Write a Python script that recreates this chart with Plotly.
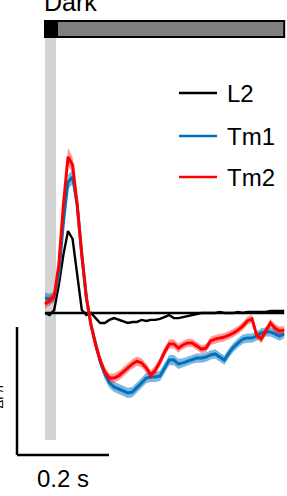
import numpy as np
import plotly.graph_objects as go

# time axis (s)
time_s = [round(0.01 * i, 2) for i in range(53)]

series_names = ["L2", "Tm1", "Tm2"]
series_colors = ["#000000", "#0072BD", "#FF0000"]

l2_dff = [0.0, -0.008, 0.012, 0.109, 0.227, 0.32, 0.289, 0.148, 0.012, -0.008,
          0.0, -0.02, -0.039, -0.039, -0.027, -0.02, -0.027, -0.035, -0.039, -0.035,
          -0.035, -0.027, -0.031, -0.027, -0.027, -0.023, -0.016, -0.008, -0.02, -0.02,
          -0.016, -0.012, -0.008, -0.004, 0.0, 0.0, 0.0, 0.0, 0.004, 0.0,
          0.0, 0.0, 0.004, 0.0, 0.004, 0.004, 0.004, 0.004, 0.004, 0.008,
          0.008, 0.008, 0.008]

tm1_dff = [0.059, 0.055, 0.062, 0.148, 0.355, 0.512, 0.531, 0.422, 0.227, 0.059,
           -0.047, -0.125, -0.191, -0.238, -0.273, -0.289, -0.297, -0.305, -0.312, -0.309,
           -0.289, -0.273, -0.254, -0.25, -0.25, -0.246, -0.215, -0.184, -0.184, -0.199,
           -0.195, -0.188, -0.18, -0.176, -0.176, -0.172, -0.164, -0.16, -0.172, -0.184,
           -0.156, -0.133, -0.117, -0.102, -0.098, -0.098, -0.09, -0.078, -0.074, -0.074,
           -0.082, -0.09, -0.082]
tm1_sem = [0.02, 0.02, 0.02, 0.022, 0.025, 0.028, 0.028, 0.025, 0.02, 0.018,
           0.018, 0.018, 0.018, 0.02, 0.02, 0.02, 0.02, 0.02, 0.02, 0.02,
           0.02, 0.02, 0.02, 0.02, 0.02, 0.02, 0.02, 0.02, 0.02, 0.02,
           0.018, 0.018, 0.018, 0.018, 0.018, 0.018, 0.018, 0.018, 0.018, 0.018,
           0.018, 0.018, 0.018, 0.018, 0.018, 0.018, 0.018, 0.018, 0.018, 0.018,
           0.018, 0.018, 0.018]

tm2_dff = [0.035, 0.047, 0.066, 0.188, 0.422, 0.61, 0.578, 0.422, 0.227, 0.059,
           -0.047, -0.125, -0.184, -0.23, -0.254, -0.254, -0.246, -0.23, -0.215, -0.199,
           -0.188, -0.195, -0.215, -0.242, -0.223, -0.191, -0.152, -0.121, -0.121, -0.137,
           -0.125, -0.117, -0.117, -0.129, -0.141, -0.137, -0.109, -0.102, -0.098, -0.094,
           -0.086, -0.078, -0.066, -0.051, -0.031, -0.023, -0.086, -0.102, -0.07, -0.039,
           -0.059, -0.07, -0.066]
tm2_sem = [0.018, 0.018, 0.02, 0.022, 0.028, 0.035, 0.03, 0.025, 0.02, 0.018,
           0.018, 0.018, 0.018, 0.018, 0.018, 0.018, 0.018, 0.018, 0.018, 0.018,
           0.018, 0.018, 0.018, 0.018, 0.018, 0.018, 0.018, 0.018, 0.018, 0.018,
           0.016, 0.016, 0.016, 0.016, 0.016, 0.016, 0.016, 0.016, 0.016, 0.016,
           0.016, 0.016, 0.016, 0.016, 0.016, 0.016, 0.016, 0.016, 0.016, 0.016,
           0.016, 0.016, 0.016]

stim_duration = 0.024
dark_label = "Dark"
scale_x_s = 0.2
scale_y = 0.5
scale_x_label = "0.2 s"
scale_y_label = "ΔF/F"

t = np.array(time_s)
fig = go.Figure()


def band(mean, sem, rgba):
    m = np.array(mean)
    s = np.array(sem)
    xs = np.concatenate([t, t[::-1]])
    ys = np.concatenate([m + s, (m - s)[::-1]])
    fig.add_trace(go.Scatter(x=xs, y=ys, fill="toself", fillcolor=rgba,
                             line=dict(width=0), mode="lines",
                             hoverinfo="skip", showlegend=False))


# zero baseline
fig.add_trace(go.Scatter(x=[t[0], t[-1]], y=[0, 0], mode="lines",
                         line=dict(color="black", width=2.4), showlegend=False))
fig.add_trace(go.Scatter(x=t, y=l2_dff, mode="lines", name=series_names[0],
                         line=dict(color=series_colors[0], width=2.4), showlegend=False))
band(tm1_dff, tm1_sem, "rgba(0,114,189,0.5)")
fig.add_trace(go.Scatter(x=t, y=tm1_dff, mode="lines", name=series_names[1],
                         line=dict(color=series_colors[1], width=3), showlegend=False))
band(tm2_dff, tm2_sem, "rgba(255,0,0,0.4)")
fig.add_trace(go.Scatter(x=t, y=tm2_dff, mode="lines", name=series_names[2],
                         line=dict(color=series_colors[2], width=3), showlegend=False))

WIN_W, WIN_H = 287, 496


# pixel helpers for layout constants (window pixel -> data)
def X(px):
    return (px - 45) / 460.0


def Y(py):
    return (313 - py) / 256.0


shapes = []
# stimulus bar
shapes.append(dict(type="rect", x0=0, x1=stim_duration, y0=Y(440), y1=Y(38),
                   fillcolor="#d3d3d3", line=dict(width=0), layer="below"))
# top light bar
shapes.append(dict(type="rect", x0=stim_duration, x1=t[-1], y0=Y(37), y1=Y(21),
                   fillcolor="#808080", line=dict(color="black", width=2)))
shapes.append(dict(type="rect", x0=0, x1=stim_duration + 0.002, y0=Y(37), y1=Y(21),
                   fillcolor="black", line=dict(color="black", width=2)))
# scale bars
shapes.append(dict(type="line", x0=X(17), x1=X(17), y0=Y(327), y1=Y(327) - scale_y,
                   line=dict(color="black", width=2.5)))
shapes.append(dict(type="line", x0=X(17), x1=X(17) + scale_x_s, y0=Y(327) - scale_y,
                   y1=Y(327) - scale_y, line=dict(color="black", width=2.5)))

annotations = []
legend_y = [Y(93), Y(136), Y(177)]
for name, col, ly in zip(series_names, series_colors, legend_y):
    shapes.append(dict(type="line", x0=X(179), x1=X(217), y0=ly, y1=ly,
                       line=dict(color=col, width=2.5)))
    annotations.append(dict(x=X(225), y=ly, text=name, showarrow=False,
                            xanchor="left", yanchor="middle",
                            font=dict(size=24, color="black")))

annotations.append(dict(x=X(70), y=Y(18), text=dark_label, showarrow=False,
                        xanchor="center", yanchor="bottom",
                        font=dict(size=25, color="black")))
annotations.append(dict(x=X(63), y=Y(478), text=scale_x_label, showarrow=False,
                        xanchor="center", yanchor="middle",
                        font=dict(size=24, color="black")))
annotations.append(dict(x=X(7), y=Y(395), text=scale_y_label, showarrow=False,
                        xanchor="right", yanchor="middle", textangle=-90,
                        font=dict(size=13, color="black")))

fig.update_layout(
    width=WIN_W, height=WIN_H,
    margin=dict(l=0, r=0, t=0, b=0),
    paper_bgcolor="white", plot_bgcolor="white",
    font=dict(family="Liberation Sans, Arial, sans-serif"),
    xaxis=dict(range=[X(0), X(WIN_W)], visible=False, fixedrange=True),
    yaxis=dict(range=[Y(WIN_H), Y(0)], visible=False, fixedrange=True),
    shapes=shapes, annotations=annotations, showlegend=False,
)

fig.write_html(
    "out.html",
    config={"displayModeBar": False},
    post_script="document.body.style.margin='0';document.body.style.overflow='hidden';",
)
